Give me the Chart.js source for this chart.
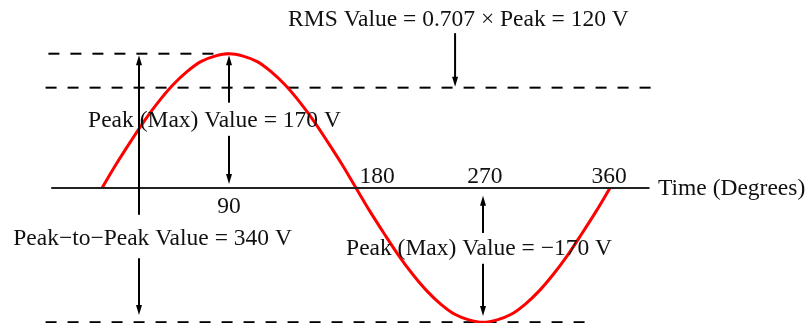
<!DOCTYPE html>
<html>
<head>
<meta charset="utf-8">
<script src="https://cdn.jsdelivr.net/npm/chart.js@4.4.1/dist/chart.umd.min.js"></script>
<style>
  html, body { margin: 0; padding: 0; background: #fff; }
  #wrap { width: 807px; height: 323px; position: relative; }
</style>
</head>
<body>
<div id="wrap"><canvas id="sineChart"></canvas></div>
<script>
/* ── data ── */
const degrees = [0, 10, 20, 30, 40, 50, 60, 70, 80, 90, 100, 110, 120, 130, 140, 150, 160, 170, 180,
                 190, 200, 210, 220, 230, 240, 250, 260, 270, 280, 290, 300, 310, 320, 330, 340, 350, 360];
const volts = [0, 30, 58, 85, 109, 130, 147, 160, 167, 170, 167, 160, 147, 130, 109, 85, 58, 30, 0,
               -30, -58, -85, -109, -130, -147, -160, -167, -170, -167, -160, -147, -130, -109, -85, -58, -30, 0];
const tickDegrees = [90, 180, 270, 360];
const tickLabels = ['90', '180', '270', '360'];
const peakVolts = 170;
const troughVolts = -170;
const rmsLevel = 127;   // where the dashed RMS line sits in the drawing

/* ── layout of the hand-drawn extras (data units) ── */
const AXIS_FROM = -36, AXIS_TO = 388;
const FONT = '23.5px "Liberation Serif", "Times New Roman", serif';

const guides = [
  { y: peakVolts,   from: -38, to: 91 },
  { y: rmsLevel,    from: -40, to: 392 },
  { y: troughVolts, from: -40, to: 347 },
];

// each arrow: x, segments [from, to] with the head at "to"
const arrows = [
  { x: 26.2,  segs: [[-34, 168], [-89, -161]] },
  { x: 90,    segs: [[108, 168], [66, 5]] },
  { x: 250.2, segs: [[196, 128]] },
  { x: 270,   segs: [[-57, -10], [-96, -162]] },
];

const labels = [
  { text: 'RMS Value = 0.707 \u00d7 Peak = 120 V', x: 252.6, y: 205, align: 'center' },
  { text: 'Peak (Max) Value = 170 V', x: 79.7, y: 77, align: 'center' },
  { text: 'Peak\u2212to\u2212Peak Value = 340 V', x: 35.8, y: -72, align: 'center' },
  { text: 'Peak (Max) Value = \u2212170 V', x: 267.2, y: -85, align: 'center' },
  { text: 'Time (Degrees)', x: 394, y: -9, align: 'left' },
];
const tickNudge = [0, 15, 1.4, -0.7];          // label offsets from the tick value
const tickBaseline = [-31.7, 6.3, 6.3, 6.3];   // 90 sits below the axis, the rest above

/* ── arrows, tick labels and text ── */
const annotate = {
  id: 'annotate',
  afterDatasetsDraw(chart) {
    const { ctx, scales: { x, y } } = chart;
    ctx.save();
    ctx.strokeStyle = '#000';
    ctx.fillStyle = '#000';
    ctx.lineWidth = 2;
    arrows.forEach(a => {
      const px = x.getPixelForValue(a.x);
      a.segs.forEach(([from, to]) => {
        const y0 = y.getPixelForValue(from), y1 = y.getPixelForValue(to);
        const dir = Math.sign(y1 - y0);
        ctx.beginPath();
        ctx.moveTo(px, y0);
        ctx.lineTo(px, y1 - dir * 6);
        ctx.stroke();
        ctx.beginPath();
        ctx.moveTo(px, y1);
        ctx.lineTo(px - 3, y1 - dir * 10);
        ctx.lineTo(px + 3, y1 - dir * 10);
        ctx.closePath();
        ctx.fill();
      });
    });

    ctx.font = FONT;
    ctx.textBaseline = 'alphabetic';
    ctx.fillStyle = '#111';
    ctx.textAlign = 'center';
    tickDegrees.forEach((d, i) => {
      ctx.fillText(tickLabels[i], x.getPixelForValue(d + tickNudge[i]), y.getPixelForValue(tickBaseline[i]));
    });
    labels.forEach(l => {
      ctx.textAlign = l.align;
      ctx.fillText(l.text, x.getPixelForValue(l.x), y.getPixelForValue(l.y));
    });
    ctx.restore();
  },
};

const dashed = g => ({
  data: [{ x: g.from, y: g.y }, { x: g.to, y: g.y }],
  borderColor: '#000',
  borderWidth: 2,
  borderDash: [11, 11],
  pointRadius: 0,
  clip: false,
});

new Chart(document.getElementById('sineChart'), {
  type: 'line',
  data: {
    datasets: [
      {
        label: 'Axis',
        data: [{ x: AXIS_FROM, y: 0 }, { x: AXIS_TO, y: 0 }],
        borderColor: '#222',
        borderWidth: 2,
        pointRadius: 0,
      },
      {
        label: 'Voltage',
        data: degrees.map((d, i) => ({ x: d, y: volts[i] })),
        borderColor: '#ff0000',
        borderWidth: 3,
        pointRadius: 0,
        cubicInterpolationMode: 'monotone',
        clip: false,
      },
      ...guides.map(dashed),
    ],
  },
  options: {
    responsive: true,
    maintainAspectRatio: false,
    animation: false,
    layout: { padding: 0 },
    plugins: { legend: { display: false }, tooltip: { enabled: false } },
    scales: {
      x: { type: 'linear', min: -72.3, max: 499.6, display: false },
      y: { type: 'linear', min: -171, max: 238, display: false },
    },
  },
  plugins: [annotate],
});
</script>
</body>
</html>
